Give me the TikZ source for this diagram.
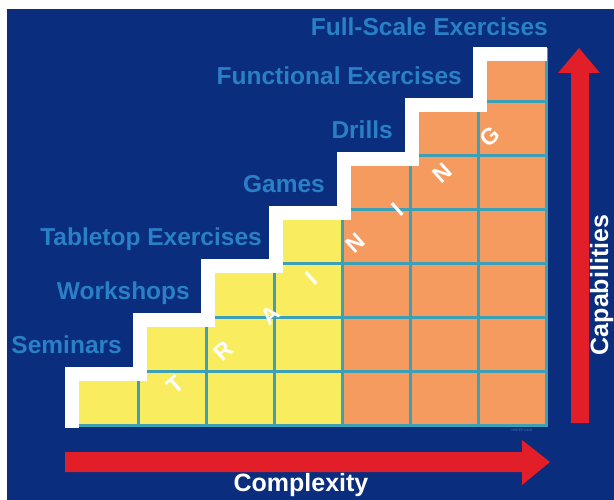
\documentclass[tikz,border=0pt]{standalone}
\usepackage{fontspec}
\setmainfont{Liberation Sans}
\definecolor{bgblue}{RGB}{10,45,125}
\definecolor{lblblue}{RGB}{42,128,198}
\definecolor{cellyellow}{RGB}{250,236,95}
\definecolor{cellorange}{RGB}{246,155,96}
\definecolor{gridteal}{RGB}{60,160,182}
\definecolor{arrowred}{RGB}{226,30,40}
\definecolor{tinyblue}{RGB}{80,115,175}
\tikzset{
  lbl/.style={anchor=base east, text=lblblue, font=\fontsize{24.5}{24.5}\selectfont\bfseries, inner sep=0pt},
  axislbl/.style={anchor=base, text=white, font=\fontsize{25}{25}\selectfont\bfseries, inner sep=0pt},
  trainletter/.style={text=white, rotate=42, font=\fontsize{23}{23}\selectfont\bfseries, inner sep=0pt},
  gridline/.style={draw=gridteal, line width=3pt},
  stair/.style={draw=white, line width=14pt, line join=miter, line cap=butt},
  bigarrow/.style={fill=arrowred},
}
\begin{document}
\begin{tikzpicture}[x=1pt,y=-1pt]
\useasboundingbox (0,0) rectangle (614,500);
\fill[white] (0,0) rectangle (614,500);
\fill[bgblue] (7,9) rectangle (614,500);

% cells
\fill[cellyellow] (70,425) -- (70,371.1) -- (138,371.1) -- (138,317.3) -- (206,317.3) -- (206,263.4) -- (274,263.4) -- (274,209.6) -- (342,209.6) -- (342,425) -- cycle;
\fill[cellorange] (342,425) -- (342,155.7) -- (410,155.7) -- (410,101.8) -- (478,101.8) -- (478,48) -- (546,48) -- (546,425) -- cycle;

% grid lines
\draw[gridline] (138,425) -- (138,371.1);
\draw[gridline] (206,425) -- (206,317.3);
\draw[gridline] (274,425) -- (274,263.4);
\draw[gridline] (342,425) -- (342,209.6);
\draw[gridline] (410,425) -- (410,155.7);
\draw[gridline] (478,425) -- (478,101.8);
\draw[gridline] (546,425) -- (546,48);
\draw[gridline] (138,371.1) -- (546,371.1);
\draw[gridline] (206,317.3) -- (546,317.3);
\draw[gridline] (274,263.4) -- (546,263.4);
\draw[gridline] (342,209.6) -- (546,209.6);
\draw[gridline] (410,155.7) -- (546,155.7);
\draw[gridline] (478,101.8) -- (546,101.8);
\draw[gridline] (70,425) -- (547.5,425);

% white staircase
\draw[stair] (72,428) -- (72,374) -- (140,374) -- (140,320) -- (208,320) -- (208,266.4) -- (276,266.4) -- (276,212.6) -- (344,212.6) -- (344,158.7) -- (412,158.7) -- (412,104.8) -- (480,104.8) -- (480,54) -- (547,54);

% TRAINING letters
\foreach \ch/\px/\py [count=\i] in {T/175/385, R/223/351, A/270/315, I/312/278, N/355/243, I/398/209, N/442/173, G/490/137} {
  \node[trainletter] (l\i) at (\px,\py) {\ch};
}

% labels
\node[lbl] (fse) at (548,36) {Full-Scale Exercises};
\node[lbl] (fe) at (462,85) {Functional Exercises};
\node[lbl] (dr) at (393,139) {Drills};
\node[lbl] (ga) at (325,193) {Games};
\node[lbl] (tt) at (262,246) {Tabletop Exercises};
\node[lbl] (ws) at (190,300) {Workshops};
\node[lbl] (se) at (122,353) {Seminars};

% arrows
\fill[bigarrow] (65,452) -- (522,452) -- (522,440) -- (550,462) -- (522,485) -- (522,472) -- (65,472) -- cycle;
\fill[bigarrow] (571,423) -- (571,73) -- (558,73) -- (579,48) -- (600,73) -- (589,73) -- (589,423) -- cycle;

\node[axislbl] (cx) at (301,491) {Complexity};
\node[axislbl, rotate=90] (cap) at (608,285) {Capabilities};

\node[text=tinyblue, font=\fontsize{3.5}{3.5}\selectfont, inner sep=0pt] (code) at (522,430) {HSEEP-0106};
\end{tikzpicture}
\end{document}
